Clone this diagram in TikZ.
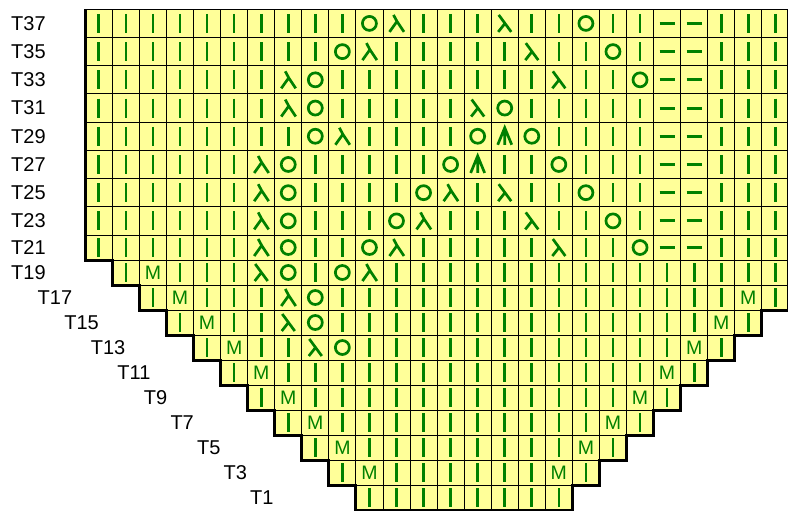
\documentclass[tikz,border=0pt]{standalone}
\usepackage{fontspec}
\setmainfont{Liberation Sans}
\definecolor{cellfill}{HTML}{FFFF99}
\definecolor{symgreen}{HTML}{008000}
\tikzset{
  cellbox/.style={fill=cellfill, draw=black, line width=0.9pt},
  symline/.style={draw=symgreen, line width=2.7pt},
  mtext/.style={text=symgreen, inner sep=0pt, font=\fontsize{19.5}{21}\selectfont},
  lab/.style={text=black, inner sep=0pt, anchor=west, font=\fontsize{20}{22}\selectfont},
  outline/.style={draw=black, line width=3pt, line join=miter}
}
\newcommand\ksymi[3]{\draw[symline, shift={(#1,#2)}] (0,-9.5) -- (0,9.5);}
\newcommand\ksymd[3]{\draw[symline, line width=3pt, shift={(#1,#2)}] (-7.5,0) -- (7.5,0);}
\newcommand\ksymo[3]{\draw[symline, shift={(#1,#2)}] (0,0) circle[radius=7];}
\newcommand\ksyml[3]{\draw[symline, shift={(#1,#2)}] (-6,-8.5) -- (6.5,8.5) (0.25,0) -- (-6.5,8.5);}
\newcommand\ksymr[3]{\draw[symline, shift={(#1,#2)}] (-3,-8.5) -- (0.5,-2) (-7,8.5) -- (0.5,-2) -- (7.5,8.5);}
\newcommand\ksyma[3]{\draw[symline, shift={(#1,#2)}] (-7,8.5) -- (0,-8.5) -- (7,8.5) (0,-8.5) -- (0,8.5);}
\newcommand\ksymm[3]{\node[mtext] (m-#3-\c) at (#1,#2) {M};}
\newcommand\knitrow[3]{%
  \foreach \s [count=\c from #2] in {#3} {
    \pgfmathsetmacro\xl{85.3+27.06*(\c-1)}
    \pgfmathsetmacro\xr{85.3+27.06*\c}
    \pgfmathsetmacro\yt{#1<9 ? 9.3+28.2125*(#1-1) : 235+25*(#1-9)}
    \pgfmathsetmacro\yb{#1<9 ? \yt+28.2125 : \yt+25}
    \pgfmathsetmacro\cx{(\xl+\xr)/2}
    \pgfmathsetmacro\cy{(\yt+\yb)/2}
    \draw[cellbox] (\xl,\yt) rectangle (\xr,\yb);
    \csname ksym\s\endcsname{\cx}{\cy}{#1}
  }}
\begin{document}
\begin{tikzpicture}[x=1pt,y=-1pt]
\useasboundingbox (0,0) rectangle (788,511);
% rows (1 = T37 at top ... 19 = T1 at bottom)
\knitrow{1}{1}{i,i,i,i,i,i,i,i,i,i,o,r,i,i,i,l,i,i,o,i,i,d,d,i,i,i}
\knitrow{2}{1}{i,i,i,i,i,i,i,i,i,o,r,i,i,i,i,i,l,i,i,o,i,d,d,i,i,i}
\knitrow{3}{1}{i,i,i,i,i,i,i,r,o,i,i,i,i,i,i,i,i,l,i,i,o,d,d,i,i,i}
\knitrow{4}{1}{i,i,i,i,i,i,i,r,o,i,i,i,i,i,l,o,i,i,i,i,i,d,d,i,i,i}
\knitrow{5}{1}{i,i,i,i,i,i,i,i,o,r,i,i,i,i,o,a,o,i,i,i,i,d,d,i,i,i}
\knitrow{6}{1}{i,i,i,i,i,i,r,o,i,i,i,i,i,o,a,i,i,o,i,i,i,d,d,i,i,i}
\knitrow{7}{1}{i,i,i,i,i,i,r,o,i,i,i,i,o,r,i,l,i,i,o,i,i,d,d,i,i,i}
\knitrow{8}{1}{i,i,i,i,i,i,r,o,i,i,i,o,r,i,i,i,l,i,i,o,i,d,d,i,i,i}
\knitrow{9}{1}{i,i,i,i,i,i,r,o,i,i,o,r,i,i,i,i,i,l,i,i,o,d,d,i,i,i}
\knitrow{10}{2}{i,m,i,i,i,l,o,i,o,r,i,i,i,i,i,i,i,i,i,i,i,i,i,i,i}
\knitrow{11}{3}{i,m,i,i,i,r,o,i,i,i,i,i,i,i,i,i,i,i,i,i,i,i,m,i}
\knitrow{12}{4}{i,m,i,i,l,o,i,i,i,i,i,i,i,i,i,i,i,i,i,i,m,i}
\knitrow{13}{5}{i,m,i,i,l,o,i,i,i,i,i,i,i,i,i,i,i,i,m,i}
\knitrow{14}{6}{i,m,i,i,i,i,i,i,i,i,i,i,i,i,i,i,m,i}
\knitrow{15}{7}{i,m,i,i,i,i,i,i,i,i,i,i,i,i,m,i}
\knitrow{16}{8}{i,m,i,i,i,i,i,i,i,i,i,i,m,i}
\knitrow{17}{9}{i,m,i,i,i,i,i,i,i,i,m,i}
\knitrow{18}{10}{i,m,i,i,i,i,i,i,m,i}
\knitrow{19}{11}{i,i,i,i,i,i,i,i}
% thick outline
\draw[outline] (85.3,9.3) -- (85.3,260) -- (112.36,260) -- (112.36,285) -- (139.42,285) -- (139.42,310)
  -- (166.48,310) -- (166.48,335) -- (193.54,335) -- (193.54,360) -- (220.6,360) -- (220.6,385)
  -- (247.66,385) -- (247.66,410) -- (274.72,410) -- (274.72,435) -- (301.78,435) -- (301.78,460)
  -- (328.84,460) -- (328.84,485) -- (355.9,485) -- (355.9,510) -- (572.38,510) -- (572.38,485)
  -- (599.44,485) -- (599.44,460) -- (626.5,460) -- (626.5,435) -- (653.56,435) -- (653.56,410)
  -- (680.62,410) -- (680.62,385) -- (707.68,385) -- (707.68,360) -- (734.74,360) -- (734.74,335)
  -- (761.8,335) -- (761.8,310) -- (788.86,310) -- (788.86,9.3);
% row labels
\foreach \r in {1,...,9} {
  \pgfmathtruncatemacro\n{39-2*\r}
  \pgfmathsetmacro\cy{\r<9 ? 9.3+28.2125*(\r-0.5) : 247.5}
  \node[lab] (lab\n) at (11,\cy) {T\n};
}
\foreach \r in {10,...,19} {
  \pgfmathtruncatemacro\n{39-2*\r}
  \pgfmathsetmacro\cy{235+25*(\r-8.5)}
  \pgfmathsetmacro\lx{11+26.55*(\r-10)}
  \node[lab] (lab\n) at (\lx,\cy) {T\n};
}
\end{tikzpicture}
\end{document}
